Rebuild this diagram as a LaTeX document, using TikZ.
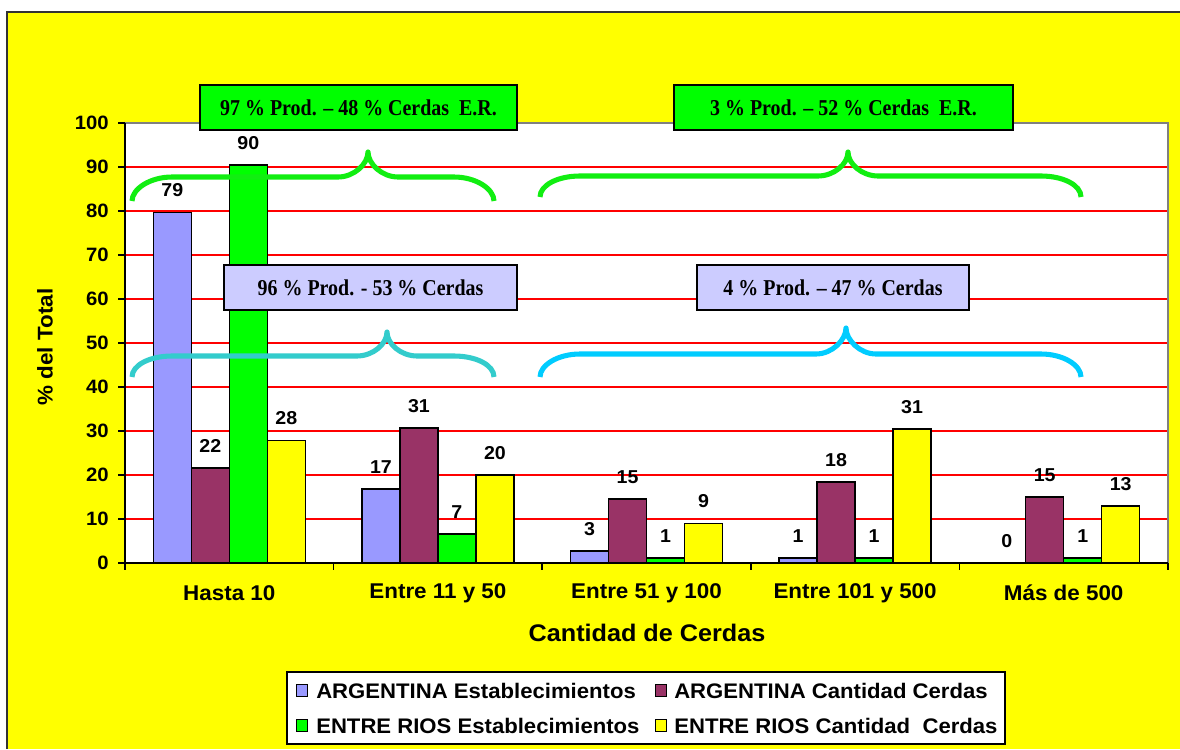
\documentclass[tikz,border=0pt]{standalone}
\usepackage{fontspec}
\setmainfont[FakeStretch=1.05]{Liberation Sans}
\newfontfamily\boxfont[FakeStretch=0.88]{Liberation Serif}
\definecolor{bgyellow}{HTML}{FFFF00}
\definecolor{barlav}{HTML}{9999FF}
\definecolor{barmaroon}{HTML}{993366}
\definecolor{bargreen}{HTML}{00FF00}
\definecolor{baryellow}{HTML}{FFFF00}
\definecolor{gridred}{HTML}{FF0000}
\definecolor{boxlav}{HTML}{CCCCFF}
\definecolor{bracegreen}{HTML}{11EE11}
\definecolor{bracecyanA}{HTML}{33CCCC}
\definecolor{bracecyanB}{HTML}{00CCFF}
\definecolor{framegray}{HTML}{333333}
\tikzset{
  vallabel/.style={font=\bfseries\fontsize{14}{15}\selectfont, inner sep=0pt},
  ticklabel/.style={font=\bfseries\fontsize{14.5}{16}\selectfont, anchor=east, inner sep=0pt},
  catlabel/.style={font=\bfseries\fontsize{16}{18}\selectfont, inner sep=0pt},
  axtitle/.style={font=\bfseries\fontsize{18}{20}\selectfont, inner sep=0pt},
  legtext/.style={font=\bfseries\fontsize{15.8}{18}\selectfont, anchor=west, inner sep=0pt},
  legsq/.style={draw=black, line width=0.6pt, minimum size=8.5pt, inner sep=0pt},
  annbox/.style={draw=black, line width=0.9pt, inner sep=0pt, minimum height=33.75pt, font=\boxfont\bfseries\fontsize{17}{19}\selectfont},
  barstyle/.style={draw=black, line width=1.1pt},
  bracestyle/.style={line width=3.8pt, line join=round},
}
\newcommand{\chartbar}[5]{%
  \pgfmathsetmacro{\bx}{125+208.6*#1+28.3+38*#2}%
  \pgfmathsetmacro{\by}{563-4.4*#3}%
  \ifdim #3pt>0pt \filldraw[barstyle, fill=#4] (\bx,563) rectangle (\bx+38,\by);\fi
  \node[vallabel] (val#1#2) at (\bx+19,\by-22) {#5};
}
\newcommand{\chartbrace}[7]{%
  \draw[bracestyle, #7] (#1,#4) .. controls (#1,#4-12) and (#1+18,#5) .. (#1+40,#5)
    -- (#2-30,#5) .. controls (#2-14,#5) and (#2,#6+12) .. (#2,#6)
    .. controls (#2,#6+12) and (#2+14,#5) .. (#2+30,#5)
    -- (#3-40,#5) .. controls (#3-18,#5) and (#3,#4-12) .. (#3,#4);
}
\begin{document}
\begin{tikzpicture}[x=0.75pt,y=-0.75pt]
\useasboundingbox (0,0) rectangle (1180,749);
\fill[white] (0,0) rectangle (1180,749);
\fill[bgyellow] (7,12) rectangle (1180,749);
\draw[framegray, line width=1.5pt] (7,749) -- (7,12) -- (1180,12);
% plot area
\fill[white] (125,123) rectangle (1168,563);
\foreach \v in {10,20,...,90} \draw[gridred, line width=0.9pt] (125,{563-4.4*\v}) -- (1168,{563-4.4*\v});
\draw[gray, line width=1.1pt] (125,123) -- (1168,123) -- (1168,563);
\draw[black, line width=1.1pt] (125,123) -- (125,563) -- (1168,563);
\foreach \v in {0,10,...,100} {
  \draw[black, line width=1.1pt] (118,{563-4.4*\v}) -- (125,{563-4.4*\v});
  \node[ticklabel] (tick\v) at (109,{563-4.4*\v}) {\v};
}
\foreach \i in {0,...,5} \draw[black, line width=1.1pt] ({125+208.6*\i},563) -- ({125+208.6*\i},570);
% bars
\chartbar{0}{0}{79.7}{barlav}{79}
\chartbar{0}{1}{21.6}{barmaroon}{22}
\chartbar{0}{2}{90.5}{bargreen}{90}
\chartbar{0}{3}{27.9}{baryellow}{28}
\chartbar{1}{0}{16.8}{barlav}{17}
\chartbar{1}{1}{30.7}{barmaroon}{31}
\chartbar{1}{2}{6.6}{bargreen}{7}
\chartbar{1}{3}{20}{baryellow}{20}
\chartbar{2}{0}{2.7}{barlav}{3}
\chartbar{2}{1}{14.5}{barmaroon}{15}
\chartbar{2}{2}{1.1}{bargreen}{1}
\chartbar{2}{3}{9}{baryellow}{9}
\chartbar{3}{0}{1.1}{barlav}{1}
\chartbar{3}{1}{18.4}{barmaroon}{18}
\chartbar{3}{2}{1.1}{bargreen}{1}
\chartbar{3}{3}{30.5}{baryellow}{31}
\chartbar{4}{0}{0}{barlav}{0}
\chartbar{4}{1}{15}{barmaroon}{15}
\chartbar{4}{2}{1.1}{bargreen}{1}
\chartbar{4}{3}{13}{baryellow}{13}
% braces
\chartbrace{132}{368}{494}{201}{177}{152}{bracegreen}
\chartbrace{540}{848}{1081}{197}{176}{152}{bracegreen}
\chartbrace{132}{387}{494}{377}{356}{332}{bracecyanA}
\chartbrace{540}{846}{1081}{377}{354}{328}{bracecyanB}
% annotation boxes
\node[annbox, fill=bargreen, minimum width=237.75pt] (boxA) at (358.5,107.5) {97 \% Prod. – 48 \% Cerdas\ \ E.R.};
\node[annbox, fill=bargreen, minimum width=254.25pt] (boxB) at (843.5,107.5) {3 \% Prod. – 52 \% Cerdas\ \ E.R.};
\node[annbox, fill=boxlav, minimum width=219.75pt] (boxC) at (370.5,287.5) {96 \% Prod. - 53 \% Cerdas};
\node[annbox, fill=boxlav, minimum width=204pt] (boxD) at (833,287.5) {4 \% Prod. – 47 \% Cerdas};
% category labels
\node[catlabel] (cat0) at (229.3,593) {Hasta 10};
\node[catlabel] (cat1) at (437.9,593) {Entre 11 y 50};
\node[catlabel] (cat2) at (646.5,593) {Entre 51 y 100};
\node[catlabel] (cat3) at (855.1,593) {Entre 101 y 500};
\node[catlabel] (cat4) at (1063.7,593) {Más de 500};
\node[axtitle] (xtitle) at (647,633) {Cantidad de Cerdas};
\node[axtitle, font=\bfseries\fontsize{16}{18}\selectfont, rotate=90] (ytitle) at (45,347) {\% del Total};
% legend
\draw[black, fill=white, line width=0.8pt] (287,672) rectangle (1005,744);
\node[legsq, fill=barlav] (lsq1) at (302,690.5) {};
\node[legtext] (lt1) at (316,690.5) {ARGENTINA Establecimientos};
\node[legsq, fill=barmaroon] (lsq2) at (661,690.5) {};
\node[legtext] (lt2) at (674,690.5) {ARGENTINA Cantidad Cerdas};
\node[legsq, fill=bargreen] (lsq3) at (302,725.5) {};
\node[legtext] (lt3) at (316,725.5) {ENTRE RIOS Establecimientos};
\node[legsq, fill=baryellow] (lsq4) at (661,725.5) {};
\node[legtext] (lt4) at (674,725.5) {ENTRE RIOS Cantidad\ \ Cerdas};
\end{tikzpicture}
\end{document}
